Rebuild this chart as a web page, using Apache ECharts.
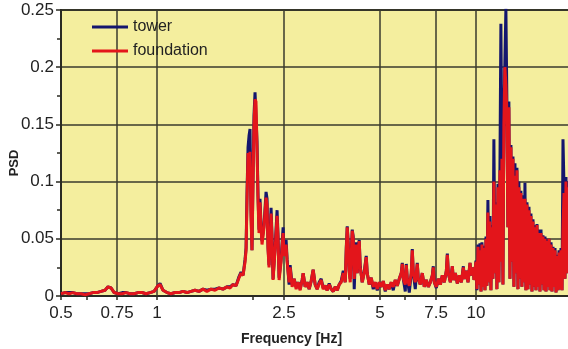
<!DOCTYPE html>
<html><head><meta charset="utf-8">
<script src="https://cdn.jsdelivr.net/npm/echarts@6/dist/echarts.min.js"></script>
<style>html,body{margin:0;padding:0;background:#fff}#c{width:568px;height:349px}</style>
</head><body><div id="c"></div>
<script>
const freq = [0.500,0.514,0.530,0.545,0.561,0.578,0.595,0.612,0.630,0.648,0.667,0.687,0.702,0.718,0.734,0.756,0.778,0.800,0.823,0.847,0.872,0.897,0.924,0.951,0.979,1.007,1.022,1.044,1.075,1.106,1.139,1.172,1.206,1.242,1.278,1.315,1.354,1.394,1.434,1.476,1.520,1.564,1.610,1.657,1.694,1.731,1.769,1.808,1.834,1.861,1.888,1.902,1.915,1.929,1.943,1.957,1.971,1.985,2.000,2.014,2.029,2.043,2.058,2.073,2.088,2.103,2.119,2.134,2.165,2.197,2.213,2.229,2.245,2.278,2.294,2.311,2.345,2.379,2.396,2.414,2.449,2.485,2.503,2.539,2.558,2.595,2.614,2.652,2.691,2.730,2.770,2.810,2.851,2.872,2.914,2.956,2.999,3.043,3.087,3.132,3.178,3.224,3.271,3.319,3.367,3.416,3.466,3.517,3.568,3.620,3.673,3.726,3.780,3.836,3.891,3.920,3.948,3.977,4.005,4.034,4.063,4.093,4.122,4.152,4.182,4.212,4.243,4.274,4.305,4.336,4.399,4.463,4.528,4.561,4.627,4.695,4.763,4.832,4.903,4.974,5.047,5.120,5.195,5.270,5.347,5.425,5.504,5.584,5.665,5.748,5.832,5.874,5.916,6.003,6.046,6.090,6.179,6.268,6.314,6.360,6.452,6.546,6.594,6.690,6.787,6.886,6.987,7.088,7.192,7.297,7.349,7.403,7.510,7.620,7.731,7.843,7.958,8.074,8.132,8.191,8.311,8.432,8.493,8.617,8.742,8.870,8.999,9.130,9.196,9.330,9.44,9.58,9.65,9.79,9.86,10.00,10.07,10.15,10.22,10.29,10.37,10.44,10.52,10.59,10.67,10.75,10.82,10.90,10.98,11.06,11.14,11.22,11.30,11.38,11.47,11.55,11.63,11.72,11.80,11.89,11.97,12.06,12.15,12.23,12.32,12.41,12.50,12.59,12.68,12.78,12.87,12.96,13.06,13.15,13.25,13.34,13.44,13.54,13.63,13.73,13.83,13.93,14.03,14.14,14.24,14.34,14.45,14.55,14.66,14.77,14.87,14.98,15.09,15.20,15.31,15.42,15.53,15.65,15.76,15.87,15.99,16.10,16.22,16.34,16.46,16.58,16.70,16.82,16.94,17.06,17.19,17.31,17.44,17.56,17.69,17.82,17.95,18.08,18.21,18.34,18.47,18.61,18.74,18.88,19.01,19.15,19.29,19.43,19.57,19.71];

const tower = [.002,.003,.003,.003,.002,.002,.002,.002,.003,.003,.004,.005,.008,.007,.003,.002,.003,.003,.002,.002,.003,.003,.002,.003,.004,.009,.011,.005,.003,.002,.003,.003,.004,.003,.004,.005,.004,.006,.005,.006,.006,.007,.006,.008,.008,.010,.009,.017,.021,.018,.032,.042,.090,.130,.140,.146,.075,.040,.105,.158,.178,.179,.135,.088,.058,.085,.062,.048,.062,.091,.085,.042,.027,.077,.052,.015,.042,.075,.052,.016,.032,.060,.038,.049,.032,.010,.027,.010,.015,.008,.012,.006,.014,.020,.008,.012,.006,.013,.023,.010,.006,.012,.015,.007,.009,.005,.011,.006,.004,.008,.005,.010,.013,.022,.012,.042,.061,.046,.022,.015,.036,.058,.052,.006,.030,.047,.020,.042,.049,.026,.012,.021,.035,.020,.010,.016,.006,.012,.005,.012,.008,.013,.004,.010,.006,.012,.005,.014,.009,.015,.020,.029,.015,.004,.028,.015,.003,.020,.041,.020,.006,.029,.015,.010,.020,.008,.014,.008,.012,.018,.026,.012,.007,.015,.010,.018,.012,.022,.037,.020,.012,.026,.014,.020,.011,.018,.012,.026,.015,.022,.012,.029,.018,.025,.014,
.031,.005,.045,.010,.046,.004,.047,.008,.044,.005,
.052,.009,.084,.012,.070,.005,.062,.015,.137,.020,
.082,.006,.098,.012,.115,.238,.120,.010,.155,.205,
.251,.170,.060,.170,.015,.132,.030,.122,.008,.116,
.020,.112,.006,.100,.015,.092,.008,.088,.012,.099,
.005,.082,.006,.078,.010,.072,.004,.067,.008,.062,
.005,.063,.008,.058,.004,.058,.010,.053,.005,.052,
.004,.050,.008,.050,.005,.047,.004,.043,.008,.042,
.003,.036,.005,.040,.006,.042,.005,.137,.095,.015,
.104,.020,.100,.030,.092];

const foundation = [.002,.003,.002,.003,.002,.002,.001,.002,.003,.003,.004,.005,.008,.007,.003,.002,.002,.003,.002,.002,.003,.003,.002,.003,.004,.009,.010,.005,.003,.002,.003,.003,.004,.003,.004,.005,.004,.006,.004,.006,.005,.007,.006,.008,.007,.010,.009,.016,.020,.018,.030,.040,.085,.125,.118,.126,.070,.040,.100,.150,.172,.170,.130,.085,.055,.082,.060,.045,.060,.086,.080,.040,.025,.072,.050,.014,.040,.070,.050,.014,.030,.055,.035,.045,.030,.012,.025,.008,.015,.006,.012,.005,.014,.020,.008,.012,.006,.013,.023,.010,.006,.011,.014,.006,.009,.005,.010,.006,.004,.008,.005,.010,.012,.020,.012,.040,.060,.045,.020,.012,.035,.057,.050,.015,.030,.045,.020,.040,.048,.025,.012,.020,.034,.020,.010,.016,.008,.012,.006,.012,.008,.013,.005,.010,.006,.012,.008,.014,.009,.015,.020,.028,.015,.010,.027,.015,.009,.020,.040,.020,.012,.028,.015,.010,.020,.008,.014,.008,.012,.018,.025,.012,.008,.015,.010,.018,.012,.022,.036,.020,.012,.026,.014,.020,.011,.018,.012,.025,.015,.022,.012,.029,.018,.025,.014,
.030,.006,.043,.010,.040,.004,.045,.008,.042,.005,
.050,.009,.073,.012,.065,.005,.060,.015,.100,.020,
.080,.006,.095,.012,.110,.030,.120,.010,.150,.200,
.185,.160,.060,.165,.015,.130,.030,.120,.008,.105,
.020,.110,.006,.095,.015,.090,.008,.085,.012,.085,
.005,.080,.006,.075,.010,.070,.004,.065,.008,.060,
.005,.062,.008,.055,.004,.055,.010,.052,.005,.050,
.004,.048,.008,.050,.005,.045,.004,.042,.008,.040,
.003,.035,.005,.038,.006,.040,.005,.060,.090,.015,
.100,.020,.095,.030,.090];

const xLabelValues = [0.5, 0.75, 1, 2.5, 5, 7.5, 10];
const xTickValues = [0.5, 0.6, 0.75, 1, 2, 2.5, 4, 5, 6, 7.5, 10];
const xGridValues = [0.75, 1, 2.5, 5, 7.5, 10];

const FONT = '"Liberation Sans", Arial, sans-serif';
const chart = echarts.init(document.getElementById('c'), null, {renderer: 'canvas'});
chart.setOption({
  animation: false,
  backgroundColor: '#ffffff',
  grid: {left: 61, right: -4, top: 10, bottom: 53, outerBoundsMode: 'none', containLabel: false,
    show: true, backgroundColor: '#f4ee9e', borderColor: '#2a2a22', borderWidth: 2},
  legend: {
    data: ['tower', 'foundation'], orient: 'vertical', left: 92, top: 18, padding: 0,
    icon: 'rect', itemWidth: 36, itemHeight: 3, itemGap: 6,
    textStyle: {fontFamily: FONT, fontSize: 16, color: '#222', lineHeight: 18}
  },
  xAxis: {
    type: 'log', min: 0.5, max: 20, logBase: 10,
    name: 'Frequency [Hz]', nameLocation: 'middle', nameGap: 36, nameMoveOverlap: false,
    nameTextStyle: {fontFamily: FONT, fontSize: 14, fontWeight: 'bold', color: '#222', padding: [0, 50, 0, 0]},
    axisLine: {show: true, lineStyle: {color: '#2a2a22', width: 2}},
    axisTick: {show: true, customValues: xTickValues, length: 4, lineStyle: {color: '#2a2a22', width: 1.5}},
    minorTick: {show: false},
    axisLabel: {customValues: xLabelValues, fontFamily: FONT, fontSize: 17, color: '#222', margin: 9,
      formatter: v => String(+v.toFixed(3))},
    splitLine: {show: false}, minorSplitLine: {show: false}
  },
  yAxis: {
    type: 'value', min: 0, max: 0.25, interval: 0.05,
    name: 'PSD', nameLocation: 'middle', nameGap: 40, nameRotate: 90, nameMoveOverlap: false,
    nameTextStyle: {fontFamily: FONT, fontSize: 13, fontWeight: 'bold', color: '#222', padding: [0, 20, 0, 0]},
    axisLine: {show: true, lineStyle: {color: '#2a2a22', width: 2}},
    axisTick: {show: true, length: 5, lineStyle: {color: '#2a2a22', width: 1.5}},
    minorTick: {show: true, splitNumber: 2, length: 4, lineStyle: {color: '#2a2a22', width: 1.5}},
    axisLabel: {fontFamily: FONT, fontSize: 17, color: '#222', margin: 7, padding: [12, 0, 0, 0],
      formatter: v => String(+v.toFixed(3))},
    splitLine: {show: true, lineStyle: {color: '#3a3a2c', width: 1.5}}
  },
  series: [
    {
      name: 'tower', type: 'line', z: 3, showSymbol: false, symbol: 'none',
      data: freq.map((f, i) => [f, tower[i]]),
      lineStyle: {color: '#14166e', width: 3}, itemStyle: {color: '#14166e'},
      markLine: {
        silent: true, symbol: 'none', z: 1, animation: false,
        label: {show: false},
        lineStyle: {color: '#3a3a2c', width: 1.5, type: 'solid'},
        data: xGridValues.map(v => ({xAxis: v}))
      }
    },
    {
      name: 'foundation', type: 'line', z: 4, showSymbol: false, symbol: 'none',
      data: freq.map((f, i) => [f, foundation[i]]),
      lineStyle: {color: '#e3151b', width: 3}, itemStyle: {color: '#e3151b'}
    }
  ]
});
</script></body></html>
